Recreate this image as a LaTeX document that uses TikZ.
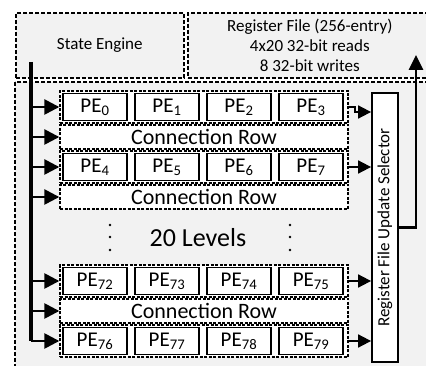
\documentclass[tikz,border=0pt]{standalone}
\usepackage{fontspec}
\setmainfont{Carlito}
\usetikzlibrary{calc, positioning, arrows.meta}
\definecolor{panelGray}{RGB}{242, 242, 242}

\begin{document}
\begin{tikzpicture}[x=1pt, y=-1pt,
  panel/.style={draw, fill=panelGray, line width=1.6pt, dash pattern=on 4pt off 2pt, inner sep=0pt},
  rowbox/.style={draw, fill=white, line width=1.4pt, dash pattern=on 3pt off 1.5pt, minimum width=288pt, inner sep=0pt},
  pebox/.style={draw, fill=white, line width=1.8pt, minimum width=64pt, minimum height=27pt, inner sep=0pt, font=\fontsize{21}{21}\selectfont},
  inarrow/.style={line width=2.6pt, -{Triangle[length=15pt, width=15pt]}},
  outarrow/.style={line width=1.8pt, -{Triangle[length=13pt, width=13pt]}}]
  \useasboundingbox (0,0) rectangle (426,366);

  % Top panels and PE array panel
  \node[panel, anchor=north west, minimum width=168pt, minimum height=65pt, font=\fontsize{17}{20}\selectfont] (engine) at (15,12) {State Engine};
  \node[panel, anchor=north west, minimum width=244pt, minimum height=65pt, align=center, font=\fontsize{17}{20}\selectfont] (regfile) at (187,12) {Register File (256-entry)\\4x20 32-bit reads\\8 32-bit writes};
  \draw[panel] (15,82) rectangle (440,380);

  % PE rows
  \foreach \r/\y/\first in {r0/107/0, r1/167/4, r2/281/72, r3/341/76} {
    \node[rowbox, minimum height=32pt] (\r) at (204,\y) {};
    \foreach \c in {0,...,3} {
      \pgfmathtruncatemacro{\n}{\first+\c}
      \node[pebox] (pe\n) at (95+72*\c,\y) {PE\textsubscript{\n}};
    }
  }
  % Connection rows
  \foreach \r/\y in {c0/137, c1/197, c2/311}
    \node[rowbox, minimum height=24pt, font=\fontsize{22}{22}\selectfont] (\r) at (204,\y) {Connection Row};

  % Levels
  \node[font=\fontsize{26}{26}\selectfont] (levels) at (198,238) {20 Levels};
  \foreach \x in {110, 290}
    \foreach \y in {225, 237, 250} \fill (\x,\y) circle (1.4pt);

  % Update selector
  \node[draw, fill=white, line width=1.8pt, rotate=90, minimum width=269pt, minimum height=26pt, inner sep=0pt, font=\fontsize{17}{17}\selectfont] (sel) at (385,227.5) {Register File Update Selector};

  % State engine bus
  \coordinate (bustop) at (31,62);
  \draw[line width=3.5pt] (bustop) -- (bustop |- r3.west);
  \foreach \t in {r0, c0, r1, c1, r2, c2, r3}
    \draw[inarrow] (bustop |- \t.west) -- (\t.west);

  % Rows into selector
  \draw[outarrow] (r0.east) -- ++(6,0) -- ++(0,5) coordinate (bend) -- (bend -| sel.north);
  \foreach \t in {r1, r2, r3}
    \draw[outarrow] (\t.east) -- (\t.east -| sel.north);

  % Writes back to register file
  \coordinate (rfin) at (416,55);
  \draw[line width=2.8pt, -{Triangle[length=15pt, width=14pt]}] (sel.south) -| (rfin);
\end{tikzpicture}
\end{document}
